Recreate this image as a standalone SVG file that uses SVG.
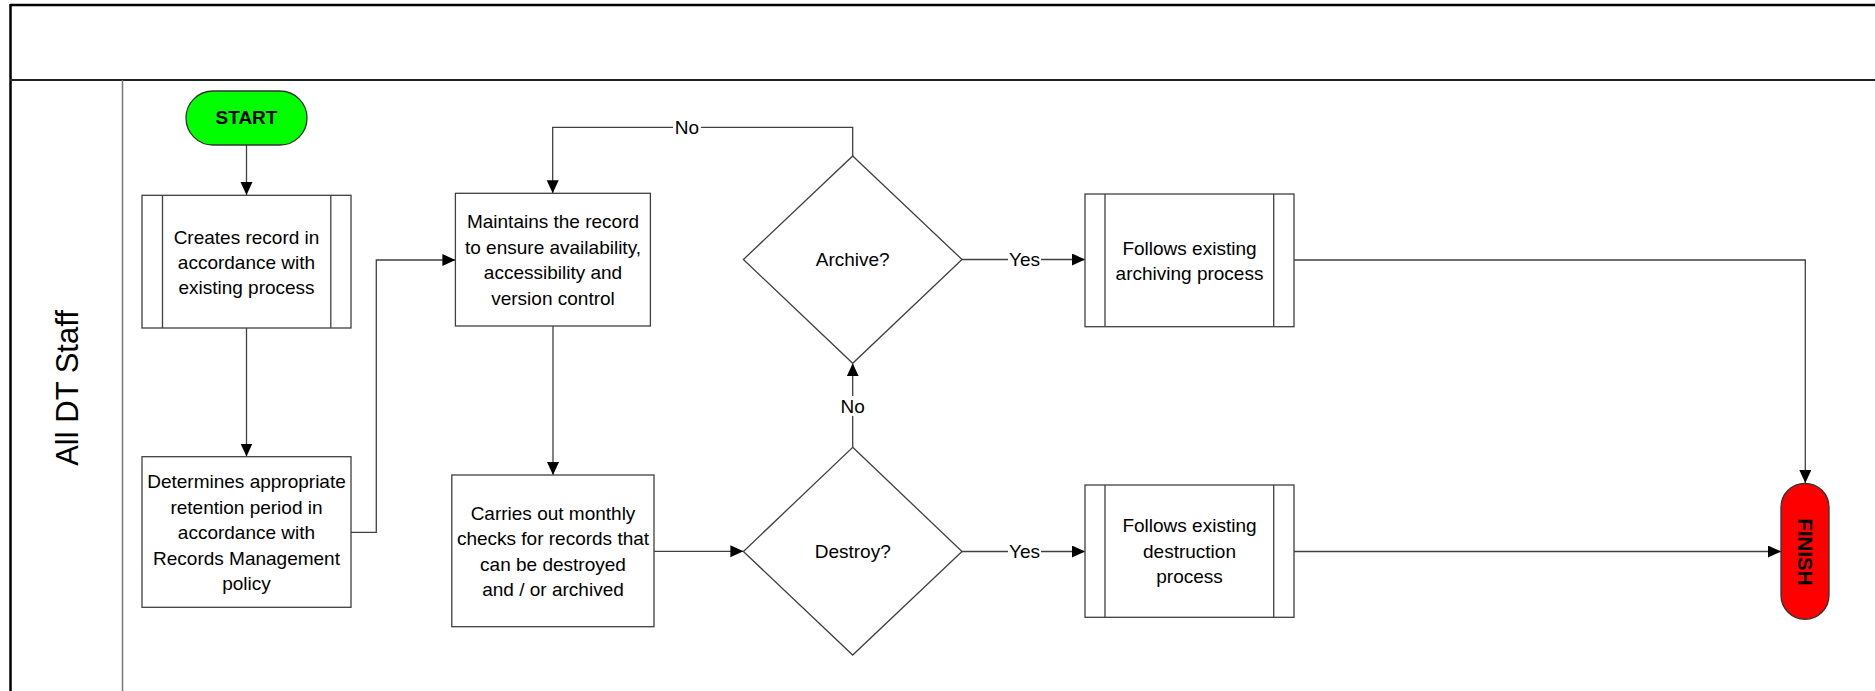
<svg xmlns="http://www.w3.org/2000/svg" width="1875" height="691" viewBox="0 0 1875 691">
<style>
text{font-family:"Liberation Sans",Arial,sans-serif;font-size:19px;fill:#000;text-anchor:middle}
.b{font-weight:bold}
.box{fill:#fff;stroke:#404040;stroke-width:1.3}
.in{stroke:#404040;stroke-width:1.3}
.con{fill:none;stroke:#404040;stroke-width:1.3}
.lbl{fill:#fff;stroke:none}
</style>
<defs>
<marker id="ah" markerUnits="userSpaceOnUse" markerWidth="14" markerHeight="13" refX="13" refY="6" orient="auto">
<path d="M0,0 L13,6 L0,12 z" fill="#000"/>
</marker>
</defs>
<rect width="1875" height="691" fill="#fff"/>
<g id="pool">
<line x1="10" y1="5" x2="1875" y2="5" stroke="#000" stroke-width="2.5"/>
<line x1="10.5" y1="4" x2="10.5" y2="691" stroke="#000" stroke-width="2.5"/>
<line x1="10" y1="80" x2="1875" y2="80" stroke="#222" stroke-width="2"/>
<line x1="122.5" y1="80" x2="122.5" y2="691" stroke="#777" stroke-width="1.5"/>
<text transform="translate(78,388) rotate(-90)" style="font-size:31px">All DT Staff</text>
</g>
<g id="connectors">
<path class="con" d="M246.5,145 V195" marker-end="url(#ah)"/>
<path class="con" d="M246.5,328 V456.5" marker-end="url(#ah)"/>
<path class="con" d="M351,532.3 H376.3 V260 H455.4" marker-end="url(#ah)"/>
<path class="con" d="M553,326 V475" marker-end="url(#ah)"/>
<path class="con" d="M654,551.3 H743.4" marker-end="url(#ah)"/>
<path class="con" d="M852.7,447.3 V363.3" marker-end="url(#ah)"/>
<path class="con" d="M852.7,156 V127.3 H552.7 V193.3" marker-end="url(#ah)"/>
<path class="con" d="M962,259.5 H1085" marker-end="url(#ah)"/>
<path class="con" d="M962,551.5 H1085" marker-end="url(#ah)"/>
<path class="con" d="M1294,260 H1805.3 V483" marker-end="url(#ah)"/>
<path class="con" d="M1294,551.5 H1781" marker-end="url(#ah)"/>
<rect class="lbl" x="673" y="117" width="28" height="20"/>
<text x="687" y="134">No</text>
<rect class="lbl" x="838" y="396" width="28" height="20"/>
<text x="852.7" y="412.5">No</text>
<rect class="lbl" x="1008" y="249" width="33" height="20"/>
<text x="1024.5" y="266">Yes</text>
<rect class="lbl" x="1008" y="541" width="33" height="20"/>
<text x="1024.5" y="558">Yes</text>
</g>
<g id="start">
<rect x="186" y="91" width="121" height="54" rx="27" fill="#00ff00" stroke="#333" stroke-width="1.3"/>
<text class="b" x="246.5" y="124.3">START</text>
</g>
<g id="creates">
<rect class="box" x="142" y="195.3" width="209" height="132.7"/>
<line class="in" x1="162.5" y1="195.3" x2="162.5" y2="328"/>
<line class="in" x1="330.8" y1="195.3" x2="330.8" y2="328"/>
<text x="246.5" y="244">Creates record in</text>
<text x="246.5" y="269">accordance with</text>
<text x="246.5" y="294">existing process</text>
</g>
<g id="determines">
<rect class="box" x="142" y="456.7" width="209" height="150.6"/>
<text x="246.5" y="488.3">Determines appropriate</text>
<text x="246.5" y="513.8">retention period in</text>
<text x="246.5" y="539.3">accordance with</text>
<text x="246.5" y="564.8">Records Management</text>
<text x="246.5" y="590.3">policy</text>
</g>
<g id="maintains">
<rect class="box" x="455.4" y="193.3" width="195" height="132.7"/>
<text x="553" y="228.3">Maintains the record</text>
<text x="553" y="253.8">to ensure availability,</text>
<text x="553" y="279.3">accessibility and</text>
<text x="553" y="304.8">version control</text>
</g>
<g id="carries">
<rect class="box" x="451.8" y="475" width="202.2" height="151.7"/>
<text x="553" y="519.8">Carries out monthly</text>
<text x="553" y="545.2">checks for records that</text>
<text x="553" y="570.6">can be destroyed</text>
<text x="553" y="596">and / or archived</text>
</g>
<g id="archive">
<path class="box" d="M852.7,156 L962,259.5 L852.7,363.3 L743.4,259.5 z"/>
<text x="852.7" y="266">Archive?</text>
</g>
<g id="destroy">
<path class="box" d="M852.7,447.3 L962,551.5 L852.7,655 L743.4,551.5 z"/>
<text x="852.7" y="558">Destroy?</text>
</g>
<g id="archiving">
<rect class="box" x="1085" y="194" width="209" height="132.7"/>
<line class="in" x1="1105" y1="194" x2="1105" y2="326.7"/>
<line class="in" x1="1273.7" y1="194" x2="1273.7" y2="326.7"/>
<text x="1189.5" y="254.8">Follows existing</text>
<text x="1189.5" y="279.8">archiving process</text>
</g>
<g id="destruction">
<rect class="box" x="1085" y="485" width="209" height="132.3"/>
<line class="in" x1="1105" y1="485" x2="1105" y2="617.3"/>
<line class="in" x1="1273.7" y1="485" x2="1273.7" y2="617.3"/>
<text x="1189.5" y="532.2">Follows existing</text>
<text x="1189.5" y="558.2">destruction</text>
<text x="1189.5" y="583.2">process</text>
</g>
<g id="finish">
<rect x="1781" y="483.3" width="48" height="136" rx="24" fill="#ff0000" stroke="#333" stroke-width="1.3"/>
<text class="b" transform="translate(1798,552) rotate(90)" style="font-size:20.5px">FINISH</text>
</g>
</svg>
